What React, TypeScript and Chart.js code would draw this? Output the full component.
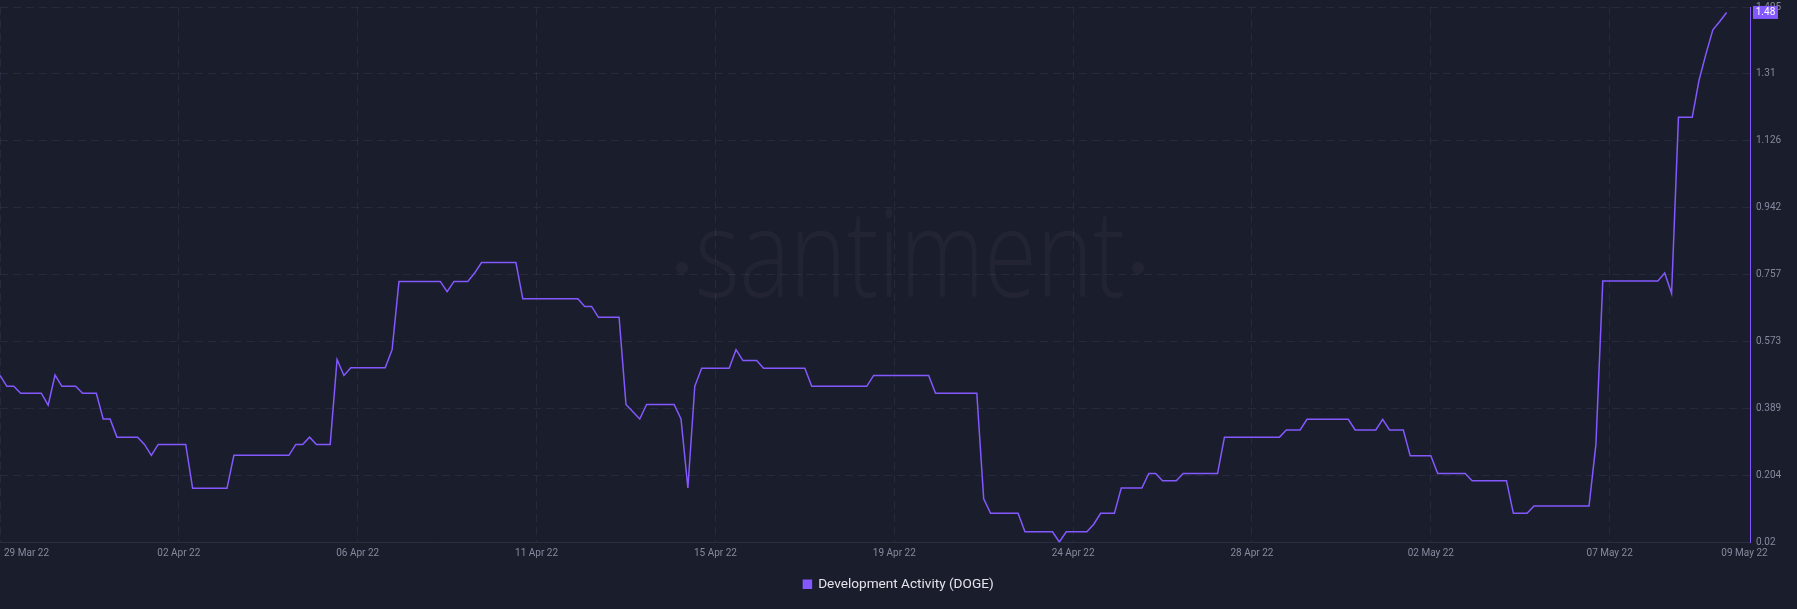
import React, { useEffect, useRef } from 'react';
import { Chart, registerables } from 'chart.js';

Chart.register(...registerables);

// Development Activity (DOGE), 4-hour points
const devActivity: number[] = [
  0.480, 0.450, 0.450, 0.431, 0.431, 0.431, 0.431, 0.398, 0.481, 0.450,
  0.450, 0.450, 0.431, 0.431, 0.431, 0.360, 0.360, 0.310, 0.310, 0.310,
  0.310, 0.290, 0.260, 0.290, 0.290, 0.290, 0.290, 0.290, 0.169, 0.169,
  0.169, 0.169, 0.169, 0.169, 0.260, 0.260, 0.260, 0.260, 0.260, 0.260,
  0.260, 0.260, 0.260, 0.290, 0.290, 0.310, 0.290, 0.290, 0.290, 0.524,
  0.480, 0.501, 0.501, 0.501, 0.501, 0.501, 0.501, 0.551, 0.739, 0.739,
  0.739, 0.739, 0.739, 0.739, 0.739, 0.711, 0.739, 0.739, 0.739, 0.762,
  0.791, 0.791, 0.791, 0.791, 0.791, 0.791, 0.691, 0.691, 0.691, 0.691,
  0.691, 0.691, 0.691, 0.691, 0.691, 0.670, 0.670, 0.640, 0.640, 0.640,
  0.640, 0.400, 0.380, 0.360, 0.400, 0.400, 0.400, 0.400, 0.400, 0.360,
  0.170, 0.450, 0.500, 0.500, 0.500, 0.500, 0.500, 0.551, 0.521, 0.521,
  0.521, 0.500, 0.500, 0.500, 0.500, 0.500, 0.500, 0.500, 0.450, 0.450,
  0.450, 0.450, 0.450, 0.450, 0.450, 0.450, 0.450, 0.480, 0.480, 0.480,
  0.480, 0.480, 0.480, 0.480, 0.480, 0.480, 0.431, 0.431, 0.431, 0.431,
  0.431, 0.431, 0.431, 0.140, 0.100, 0.100, 0.100, 0.100, 0.100, 0.049,
  0.049, 0.049, 0.049, 0.049, 0.021, 0.049, 0.049, 0.049, 0.049, 0.070,
  0.100, 0.100, 0.100, 0.170, 0.170, 0.170, 0.170, 0.210, 0.210, 0.190,
  0.190, 0.190, 0.210, 0.210, 0.210, 0.210, 0.210, 0.210, 0.310, 0.310,
  0.310, 0.310, 0.310, 0.310, 0.310, 0.310, 0.310, 0.330, 0.330, 0.330,
  0.359, 0.359, 0.359, 0.359, 0.359, 0.359, 0.359, 0.330, 0.330, 0.330,
  0.330, 0.359, 0.330, 0.330, 0.330, 0.259, 0.259, 0.259, 0.259, 0.210,
  0.210, 0.210, 0.210, 0.210, 0.190, 0.190, 0.190, 0.190, 0.190, 0.190,
  0.100, 0.100, 0.100, 0.120, 0.120, 0.120, 0.120, 0.120, 0.120, 0.120,
  0.120, 0.120, 0.290, 0.740, 0.740, 0.740, 0.740, 0.740, 0.740, 0.740,
  0.740, 0.740, 0.762, 0.706, 1.191, 1.191, 1.191, 1.294, 1.366, 1.432,
  1.455, 1.480,
];

const seriesLabel = 'Development Activity (DOGE)';
const xTickIndices: number[] = [0, 26, 52, 78, 104, 130, 156, 182, 208, 234, 253.6];
const xTickLabels: string[] = [
  '29 Mar 22', '02 Apr 22', '06 Apr 22', '11 Apr 22', '15 Apr 22', '19 Apr 22',
  '24 Apr 22', '28 Apr 22', '02 May 22', '07 May 22', '09 May 22',
];
const yTickValues: number[] = [0.02, 0.204375, 0.38875, 0.573125, 0.7575, 0.941875, 1.12625, 1.310625, 1.495];
const yTickLabels: string[] = ['0.02', '0.204', '0.389', '0.573', '0.757', '0.942', '1.126', '1.31', '1.495'];
const xMax = 254.4;

const BG = '#1a1d2c';
const PURPLE = '#8358ff';
const GRID = 'rgba(58, 63, 86, 0.38)';
const TICK = '#868a9d';

const watermarkPlugin = {
  id: 'watermark',
  beforeDatasetsDraw(chart: any) {
    const { ctx, chartArea } = chart;
    const cx = (chartArea.left + chartArea.right) / 2 + 35;
    ctx.save();
    ctx.fillStyle = 'rgba(255,255,255,0.035)';
    ctx.font = "300 122px 'Open Sans'";
    ctx.textAlign = 'center';
    ctx.textBaseline = 'alphabetic';
    const text = 'santiment';
    const w = ctx.measureText(text).width;
    const target = 430;
    ctx.translate(cx, 297);
    ctx.scale(target / w, 1);
    ctx.fillText(text, 0, 0);
    ctx.restore();
    ctx.save();
    ctx.fillStyle = 'rgba(255,255,255,0.035)';
    ctx.beginPath();
    ctx.arc(cx - 228, 268, 6, 0, Math.PI * 2);
    ctx.arc(cx + 228, 268, 6, 0, Math.PI * 2);
    ctx.fill();
    ctx.restore();
  },
};

const xLabelsPlugin = {
  id: 'xLabels',
  afterDraw(chart: any) {
    const { ctx } = chart;
    const xs = chart.scales.x;
    ctx.save();
    ctx.font = "10px Roboto";
    ctx.fillStyle = TICK;
    ctx.textAlign = 'center';
    ctx.textBaseline = 'middle';
    xTickIndices.forEach((v, i) => {
      const label = xTickLabels[i];
      const w = ctx.measureText(label).width;
      let px = xs.getPixelForValue(v);
      if (px - w / 2 < 4) px = 4 + w / 2;
      ctx.fillText(label, px, 553);
    });
    ctx.restore();
  },
};

const badgePlugin = {
  id: 'lastBadge',
  afterDraw(chart: any) {
    const { ctx } = chart;
    const ys = chart.scales.y;
    const last = devActivity[devActivity.length - 1];
    const py = ys.getPixelForValue(last);
    const x0 = chart.chartArea.right + 3;
    ctx.save();
    ctx.fillStyle = PURPLE;
    ctx.fillRect(x0, py - 6.5, 25, 13);
    ctx.fillStyle = '#ffffff';
    ctx.font = "10px Roboto";
    ctx.textAlign = 'center';
    ctx.textBaseline = 'middle';
    ctx.fillText(last.toFixed(2), x0 + 12.5, py + 0.5);
    ctx.restore();
  },
};

export default function App() {
  const ref = useRef<HTMLCanvasElement | null>(null);

  useEffect(() => {
    if (!ref.current) return;
    const points = devActivity.map((v, i) => ({ x: i, y: v }));
    const chart = new Chart(ref.current, {
      type: 'line',
      data: {
        datasets: [
          {
            label: seriesLabel,
            data: points,
            borderColor: PURPLE,
            backgroundColor: PURPLE,
            borderWidth: 1.5,
            pointRadius: 0,
            tension: 0,
            fill: false,
          },
        ],
      },
      options: {
        responsive: false,
        animation: false,
        devicePixelRatio: 1,
        layout: { padding: { top: 7, left: 0, right: 0, bottom: 8 } },
        plugins: {
          tooltip: { enabled: false },
          legend: {
            display: true,
            position: 'bottom',
            labels: {
              boxWidth: 8,
              boxHeight: 8,
              padding: 10,
              color: '#e4e4ea',
              font: { family: 'Roboto', size: 13.6 },
            },
          },
        },
        scales: {
          x: {
            type: 'linear',
            min: 0,
            max: xMax,
            afterBuildTicks: (scale: any) => {
              scale.ticks = xTickIndices.map((v) => ({ value: v }));
            },
            afterFit: (scale: any) => {
              scale.height = 25;
              scale.paddingLeft = 0;
              scale.paddingRight = 0;
            },
            ticks: { display: false },
            grid: {
              display: true,
              drawTicks: false,
              color: (c: any) => (c.index === xTickIndices.length - 1 ? 'rgba(0,0,0,0)' : GRID),
              lineWidth: 1,
            },
            border: { display: true, color: '#2a2e41', width: 1, dash: [8, 5] },
          },
          y: {
            type: 'linear',
            position: 'right',
            min: 0.02,
            max: 1.495,
            afterBuildTicks: (scale: any) => {
              scale.ticks = yTickValues.map((v) => ({ value: v }));
            },
            afterFit: (scale: any) => {
              scale.width = 47;
              scale.paddingTop = 0;
              scale.paddingBottom = 0;
            },
            ticks: {
              padding: 6,
              color: TICK,
              font: { family: 'Roboto', size: 10 },
              callback: (_v: any, i: number) => yTickLabels[i],
            },
            grid: { drawTicks: false, color: GRID, lineWidth: 1 },
            border: { display: true, color: PURPLE, width: 1, dash: [8, 5] },
          },
        },
      },
      plugins: [watermarkPlugin, xLabelsPlugin, badgePlugin],
    });
    return () => chart.destroy();
  }, []);

  return (
    <div style={{ position: 'absolute', left: 0, top: 0, width: 1797, height: 609, background: BG }}>
      <canvas ref={ref} width={1797} height={609} style={{ display: 'block' }} />
    </div>
  );
}
